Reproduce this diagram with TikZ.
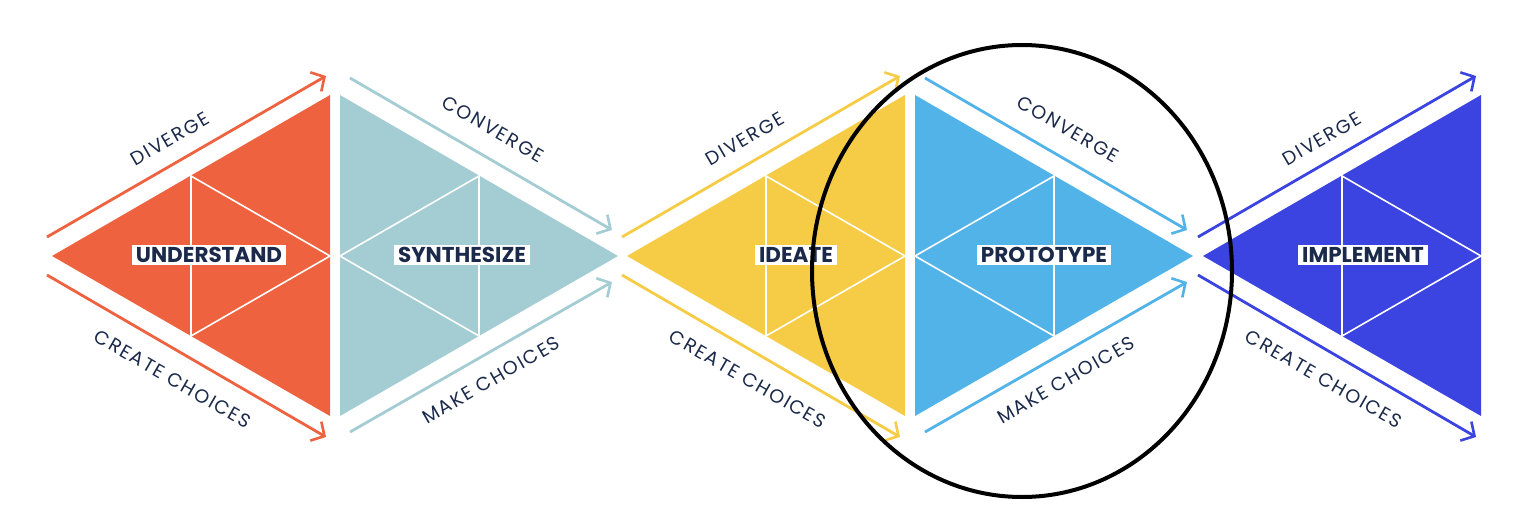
\documentclass[tikz,border=0pt]{standalone}
\usepackage{fontspec}
\setmainfont{Poppins}
\newfontfamily\movefont[LetterSpace=9]{Poppins}
\usetikzlibrary{arrows.meta}

\definecolor{understandc}{HTML}{EE6240}
\definecolor{synthesizec}{HTML}{A3CDD3}
\definecolor{ideatec}{HTML}{F6CB45}
\definecolor{prototypec}{HTML}{52B3E8}
\definecolor{implementc}{HTML}{3B44E0}
\definecolor{navy}{HTML}{1B2A4A}

\begin{document}
\begin{tikzpicture}[x=1pt, y=-1pt]
	\tikzset{
	    stage/.style= {fill=white, text=navy, inner xsep=4pt, inner ysep=2.5pt, font=\fontsize{21.5}{23}\selectfont\bfseries},
	    move/.style= {text=navy, font=\movefont\fontsize{19}{21}\selectfont},
	    flow/.style= {line width=2.8pt, -{Straight Barb[length=10pt, width=22pt, line width=2.6pt]}},
	    grid/.style= {white, line width=1.6pt},
	}
	\useasboundingbox (0,0) rectangle (1538,524);

	% triangles
	\fill[understandc] (52,256) -- (330,95) -- (330,416) -- cycle;
	\draw[grid] (191,176) -- (191,336) -- (330,256) -- cycle;
	\fill[synthesizec] (340,95) -- (618,256) -- (340,416) -- cycle;
	\draw[grid] (479,176) -- (479,336) -- (340,256) -- cycle;
	\fill[ideatec] (627,256) -- (905,95) -- (905,416) -- cycle;
	\draw[grid] (766,176) -- (766,336) -- (905,256) -- cycle;
	\fill[prototypec] (915,95) -- (1193,256) -- (915,416) -- cycle;
	\draw[grid] (1054,176) -- (1054,336) -- (915,256) -- cycle;
	\fill[implementc] (1203,256) -- (1481,95) -- (1481,416) -- cycle;
	\draw[grid] (1342,176) -- (1342,336) -- (1481,256) -- cycle;

	\node[stage] (understand) at (209,255) {UNDERSTAND};
	\node[stage] (synthesize) at (462,255) {SYNTHESIZE};
	\node[stage] (ideate) at (796,255) {IDEATE};
	\node[stage] (prototype) at (1044,255) {PROTOTYPE};
	\node[stage] (implement) at (1363,255) {IMPLEMENT};

	% arrow ends
	\coordinate (udiv-s) at (47,237);   \coordinate (udiv-e) at (326,76);
	\coordinate (ucre-s) at (47,275);   \coordinate (ucre-e) at (326,437);
	\coordinate (scon-s) at (350,78);   \coordinate (scon-e) at (612,230);
	\coordinate (smak-s) at (350,432);  \coordinate (smak-e) at (612,282);
	\coordinate (idiv-s) at (622,237);  \coordinate (idiv-e) at (900,76);
	\coordinate (icre-s) at (622,275);  \coordinate (icre-e) at (900,437);
	\coordinate (pcon-s) at (925,78);   \coordinate (pcon-e) at (1187,230);
	\coordinate (pmak-s) at (925,432);  \coordinate (pmak-e) at (1187,282);
	\coordinate (mdiv-s) at (1198,237); \coordinate (mdiv-e) at (1476,76);
	\coordinate (mcre-s) at (1198,275); \coordinate (mcre-e) at (1476,437);

	\draw[flow, understandc] (udiv-s) -- (udiv-e);
	\draw[flow, understandc] (ucre-s) -- (ucre-e);
	\draw[flow, synthesizec] (scon-s) -- (scon-e);
	\draw[flow, synthesizec] (smak-s) -- (smak-e);
	\draw[flow, ideatec] (idiv-s) -- (idiv-e);
	\draw[flow, ideatec] (icre-s) -- (icre-e);
	\draw[flow, prototypec] (pcon-s) -- (pcon-e);
	\draw[flow, prototypec] (pmak-s) -- (pmak-e);
	\draw[flow, implementc] (mdiv-s) -- (mdiv-e);
	\draw[flow, implementc] (mcre-s) -- (mcre-e);

	% arrow labels
	\node[move, rotate=30] (udiv) at (170,139) {DIVERGE};
	\node[move, rotate=-30] (ucre) at (173,379) {CREATE CHOICES};
	\node[move, rotate=-30] (scon) at (493,129) {CONVERGE};
	\node[move, rotate=30] (smak) at (491,380) {MAKE CHOICES};
	\node[move, rotate=30] (idiv) at (745,139) {DIVERGE};
	\node[move, rotate=-30] (icre) at (748,379) {CREATE CHOICES};
	\node[move, rotate=-30] (pcon) at (1068,129) {CONVERGE};
	\node[move, rotate=30] (pmak) at (1066,380) {MAKE CHOICES};
	\node[move, rotate=30] (mdiv) at (1322,139) {DIVERGE};
	\node[move, rotate=-30] (mcre) at (1324,379) {CREATE CHOICES};

	% focus
	\draw[black, line width=4pt] (1022,271) ellipse [x radius=210, y radius=226];
\end{tikzpicture}
\end{document}
